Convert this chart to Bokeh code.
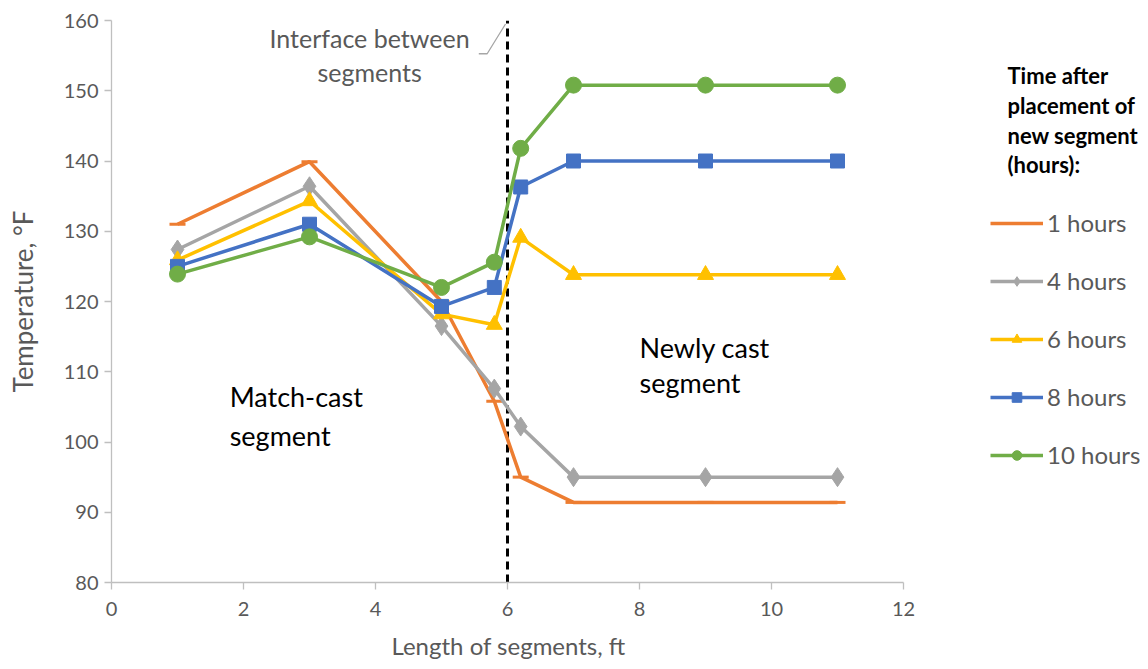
from bokeh.plotting import figure
from bokeh.models import Legend, LegendItem, Range1d, FixedTicker, Title
from bokeh.core.properties import value
from bokeh.embed import file_html
from bokeh.resources import INLINE

# ---- data ----
x_pos = [1, 3, 5, 5.8, 6.2, 7, 9, 11]
t1 = [131.0, 139.9, 120.0, 105.8, 95.0, 91.4, 91.4, 91.4]
t4 = [127.4, 136.4, 116.5, 107.6, 102.2, 95.0, 95.0, 95.0]
t6 = [125.9, 134.3, 118.2, 116.7, 129.1, 123.8, 123.8, 123.8]
t8 = [125.0, 131.0, 119.3, 122.0, 136.3, 140.0, 140.0, 140.0]
t10 = [123.9, 129.2, 122.0, 125.6, 141.8, 150.8, 150.8, 150.8]
series_names = ["1 hours", "4 hours", "6 hours", "8 hours", "10 hours"]
legend_title = "Time after\nplacement of\nnew segment\n(hours):"
interface_x = 6
x_ticks = [0, 2, 4, 6, 8, 10, 12]
y_ticks = [80, 90, 100, 110, 120, 130, 140, 150, 160]
x_label = "Length of segments, ft"
y_label = "Temperature, °F"

FONT = "Lato"
AX = "#595959"

# frame spans to the right edge; axis drawn only over 0..12
X_END = 1029 / 66.0
p = figure(width=1140, height=669, x_range=Range1d(0, X_END), y_range=Range1d(80, 160),
           output_backend="svg", toolbar_location=None,
           min_border_left=111, min_border_right=0, min_border_top=20, min_border_bottom=86)
p.outline_line_color = None
p.xgrid.visible = False
p.ygrid.visible = False
p.background_fill_color = "white"

for ax in (p.xaxis[0], p.yaxis[0]):
    ax.axis_line_color = "#BFBFBF"
    ax.axis_line_width = 1.3
    ax.major_tick_line_color = "#BFBFBF"
    ax.major_tick_line_width = 1.3
    ax.major_tick_in = 0
    ax.major_tick_out = 7
    ax.minor_tick_line_color = None
    ax.major_label_text_font = FONT
    ax.major_label_text_font_size = "20px"
    ax.major_label_text_color = AX
    ax.axis_label_text_font = FONT
    ax.axis_label_text_color = AX
    ax.axis_label_text_font_style = "normal"

p.xaxis.bounds = (0, 12)
p.yaxis.axis_label_text_font_size = "26px"
p.xaxis.ticker = FixedTicker(ticks=x_ticks)
p.yaxis.ticker = FixedTicker(ticks=y_ticks)
p.yaxis.axis_label = y_label
p.xaxis.major_label_standoff = 12
p.yaxis.major_label_standoff = 6
p.yaxis.axis_label_standoff = 22

p.add_layout(Title(text=x_label, align="left", offset=280, text_font=FONT,
                   text_font_size="24px", text_color=AX, text_font_style="normal",
                   standoff=20), "below")

# interface line
p.line([interface_x, interface_x], [80, 160], line_color="black", line_width=3, line_dash="8 5")

colors = ["#ED7D31", "#A5A5A5", "#FFC000", "#4472C4", "#70AD47"]
markers = ["dash", "diamond", "triangle", "square", "circle"]
sizes = [16, 19, 16, 14, 16]
items = []
for ys, name, c, m, s in zip([t1, t4, t6, t8, t10], series_names, colors, markers, sizes):
    r1 = p.line(x_pos, ys, line_color=c, line_width=3.5)
    if m == "dash":
        r2 = p.scatter(x_pos, ys, marker=m, size=s, line_color=c, line_width=3, fill_color=c)
    else:
        r2 = p.scatter(x_pos, ys, marker=m, size=s, line_color=c, fill_color=c)
    items.append(LegendItem(label=name, renderers=[r1, r2]))

# text annotations
p.text(x=[3.91], y=[155.1], text=["Interface between\nsegments"], text_font=value(FONT),
       text_font_size="25px", text_color=AX, text_align="center", text_baseline="middle",
       text_line_height=1.12)
p.line([5.565, 5.692, 5.97], [155.27, 155.27, 159.5], line_color="#A6A6A6", line_width=1.3)
p.text(x=[1.79], y=[103.7], text=["Match-cast\nsegment"], text_font=value(FONT),
       text_font_size="27px", text_color="#000000", text_align="left", text_baseline="middle",
       text_line_height=1.16)
p.text(x=[8.0], y=[111.0], text=["Newly cast\nsegment"], text_font=value(FONT),
       text_font_size="27px", text_color="#000000", text_align="left", text_baseline="middle",
       text_line_height=1.06)

# legend title (as text) and legend
p.text(x=[13.576], y=[154.07], text=[legend_title], text_font=value(FONT),
       text_font_size="22px", text_font_style="bold", text_color="black",
       text_align="left", text_baseline="top", text_line_height=1.1)

legend = Legend(items=items, location=(879, 113))
legend.label_text_font = FONT
legend.label_text_font_size = "24px"
legend.label_text_color = AX
legend.glyph_width = 53
legend.glyph_height = 24
legend.label_standoff = 4
legend.spacing = 29
legend.border_line_color = None
legend.background_fill_alpha = 0
legend.margin = 0
legend.padding = 0
p.add_layout(legend)

open("out.html", "w").write(file_html(p, INLINE))
